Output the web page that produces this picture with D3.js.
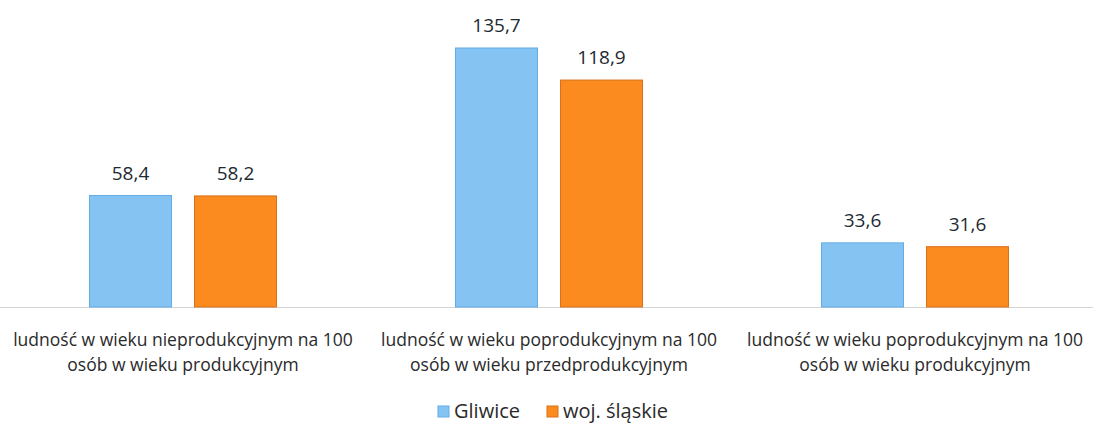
<!DOCTYPE html>
<html>
<head>
<meta charset="utf-8">
<script src="https://cdn.jsdelivr.net/npm/d3@7"></script>
<style>
  body { margin: 0; background: #fff; }
  text { font-family: "Open Sans", "Noto Sans", sans-serif; fill: #222; }
</style>
</head>
<body>
<div id="chart"></div>
<script>
const categories = [
    ["ludność w wieku nieprodukcyjnym na 100", "osób w wieku produkcyjnym"],
    ["ludność w wieku poprodukcyjnym na 100", "osób w wieku przedprodukcyjnym"],
    ["ludność w wieku poprodukcyjnym na 100", "osób w wieku produkcyjnym"]
];
const seriesNames = ["Gliwice", "woj. śląskie"];
const gliwice = [58.4, 135.7, 33.6];
const slaskie = [58.2, 118.9, 31.6];
const colors = ["#85c4f2", "#fb8b1e"];
const strokes = ["#62ace6", "#d9711a"];

const W = 1093, H = 423;
const baseY = 307;
const topY = 48;

const svg = d3.select("#chart").append("svg")
    .attr("width", W)
    .attr("height", H);

const x = d3.scaleBand()
    .domain(d3.range(categories.length))
    .range([0, 1098]);

// two bars per group, ~82px wide with a ~23px gap
const xs = d3.scaleBand()
    .domain(d3.range(seriesNames.length))
    .range([x.bandwidth() / 2 - 93.5, x.bandwidth() / 2 + 93.5])
    .paddingInner(0.219);

const y = d3.scaleLinear()
    .domain([0, 135.7])
    .range([baseY, topY]);

// baseline
svg.append("line")
    .attr("x1", 0).attr("x2", W)
    .attr("y1", baseY + 0.5).attr("y2", baseY + 0.5)
    .attr("stroke", "#d4d4d4")
    .attr("stroke-width", 1);

const series = [gliwice, slaskie];

series.forEach((vals, s) => {
    svg.append("g").selectAll("rect")
        .data(vals)
        .enter()
        .append("rect")
        .attr("x", (d, i) => x(i) + xs(s))
        .attr("y", d => y(d))
        .attr("width", xs.bandwidth())
        .attr("height", d => baseY - y(d))
        .attr("fill", colors[s])
        .attr("stroke", strokes[s])
        .attr("stroke-width", 1);

    svg.append("g").selectAll("text")
        .data(vals)
        .enter()
        .append("text")
        .attr("x", (d, i) => x(i) + xs(s) + xs.bandwidth() / 2)
        .attr("y", d => y(d) - 16)
        .attr("text-anchor", "middle")
        .style("font-size", "19px")
        .style("fill", "#1e2a32")
        .text(d => d.toFixed(1).replace(".", ","));
});

// category labels
const catG = svg.append("g").selectAll("text")
    .data(categories)
    .enter()
    .append("text")
    .attr("text-anchor", "middle")
    .style("font-size", "17.5px")
    .style("fill", "#2a2a2a");

catG.selectAll("tspan")
    .data((d, i) => d.map(t => ({ t, i })))
    .enter()
    .append("tspan")
    .attr("x", d => x(d.i) + x.bandwidth() / 2)
    .attr("y", (d, j) => 346 + j * 25)
    .text(d => d.t);

// legend
const legend = svg.append("g");
const legendX = [438, 547];
seriesNames.forEach((name, s) => {
    legend.append("rect")
        .attr("x", legendX[s])
        .attr("y", 406)
        .attr("width", 11)
        .attr("height", 11)
        .attr("fill", colors[s])
        .attr("stroke", strokes[s]);
    legend.append("text")
        .attr("x", legendX[s] + 16)
        .attr("y", 418)
        .style("font-size", "20px")
        .style("fill", "#2a2a2a")
        .text(name);
});
</script>
</body>
</html>
